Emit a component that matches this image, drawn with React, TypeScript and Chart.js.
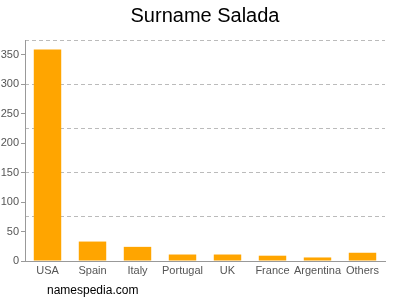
import React, { useEffect, useRef } from "react";
import { Chart, registerables } from "chart.js";

Chart.register(...registerables);

const categories = ["USA", "Spain", "Italy", "Portugal", "UK", "France", "Argentina", "Others"];
const counts = [359, 33, 24, 11, 11, 9, 6, 14];
const labelTicks = [0, 50, 100, 150, 200, 250, 300, 350];
const gridTicks = [75, 150, 225, 300, 375];
const axisMax = 375;
const titleText = "Surname Salada";
const footerText = "namespedia.com";

const FONT = "'Liberation Sans', Arial, Helvetica, sans-serif";

export default function App() {
  const ref = useRef<HTMLCanvasElement | null>(null);

  useEffect(() => {
    if (!ref.current) return;
    const textPlugin = {
      id: "texts",
      afterDraw(chart: any) {
        const { ctx, chartArea } = chart;
        ctx.save();
        ctx.fillStyle = "#000";
        ctx.font = `20px ${FONT}`;
        ctx.textAlign = "center";
        ctx.textBaseline = "alphabetic";
        ctx.fillText(titleText, (chartArea.left + chartArea.right) / 2, 21.5);
        ctx.font = `12px ${FONT}`;
        ctx.textAlign = "left";
        ctx.fillText(footerText, 47, 294);
        ctx.restore();
      },
    };
    const chart = new Chart(ref.current, {
      type: "bar",
      data: {
        labels: categories,
        datasets: [
          {
            data: counts,
            backgroundColor: "#FFA500",
            barPercentage: 0.61,
            categoryPercentage: 1,
            yAxisID: "y",
          },
        ],
      },
      options: {
        animation: false,
        responsive: true,
        maintainAspectRatio: false,
        layout: { padding: { top: 40, right: 15, bottom: 0, left: 0 } },
        plugins: {
          legend: { display: false },
          tooltip: { enabled: false },
          title: { display: false },
        },
        scales: {
          x: {
            grid: { display: false, drawTicks: false },
            border: { display: true, color: "#999" },
            ticks: { color: "#555", font: { family: FONT, size: 11 }, padding: 3, maxRotation: 0, autoSkip: false },
            afterFit: (s: any) => {
              s.height = 39;
            },
          },
          y: {
            position: "left",
            min: 0,
            max: axisMax,
            afterBuildTicks: (s: any) => {
              s.ticks = labelTicks.map((v) => ({ value: v }));
            },
            grid: { drawOnChartArea: false, tickLength: 4, color: "#999" },
            border: { display: true, color: "#999" },
            ticks: { color: "#555", font: { family: FONT, size: 11 }, padding: 2 },
            afterFit: (s: any) => {
              s.width = 25;
            },
          },
          y2: {
            position: "right",
            min: 0,
            max: axisMax,
            afterBuildTicks: (s: any) => {
              s.ticks = gridTicks.map((v) => ({ value: v }));
            },
            grid: { color: "#bbb", drawTicks: false },
            border: { display: false, dash: [4, 3] },
            ticks: { display: false },
            afterFit: (s: any) => {
              s.width = 0;
            },
          },
        },
      },
      plugins: [textPlugin],
    });
    return () => chart.destroy();
  }, []);

  return (
    <div style={{ position: "fixed", left: 0, top: 0, width: 400, height: 300, background: "#fff" }}>
      <canvas ref={ref} />
    </div>
  );
}
